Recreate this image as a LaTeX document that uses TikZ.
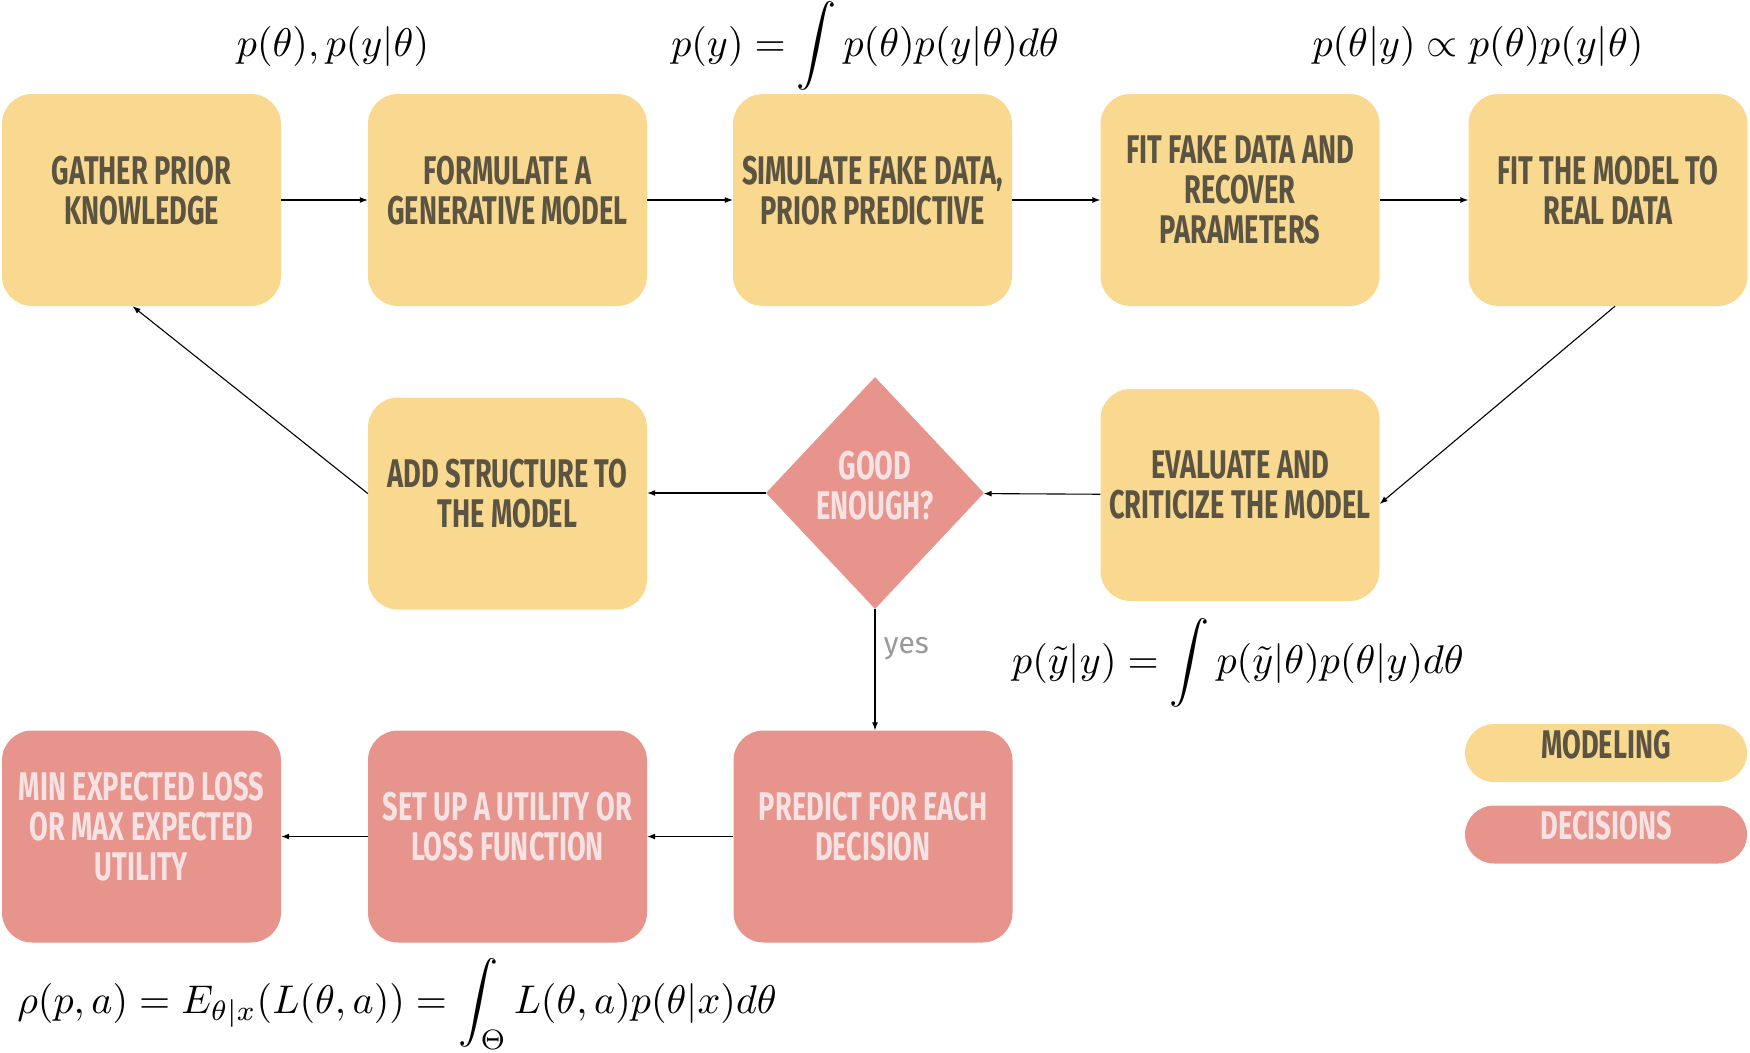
\documentclass[tikz,border=0pt]{standalone}
\usepackage{fontspec}
\newfontfamily\dinfont{Fira Sans}[FakeStretch=0.68]
\newfontfamily\yesfont{Fira Sans}
\usetikzlibrary{shapes.geometric,arrows.meta,calc}
\definecolor{modelfill}{HTML}{F8D98F}
\definecolor{decfill}{HTML}{E6948C}
\definecolor{modeltext}{HTML}{5B5443}
\definecolor{dectext}{HTML}{F6E2E3}
\tikzstyle{stage}=[rectangle,rounded corners=30pt,minimum width=279pt,minimum height=212pt,inner sep=0pt,align=center,font=\dinfont\bfseries\fontsize{40}{40}\selectfont,text depth=20pt]
\tikzstyle{model}=[stage,fill=modelfill,text=modeltext]
\tikzstyle{decide}=[stage,fill=decfill,text=dectext]
\tikzstyle{pill}=[stage,rounded corners=29pt,minimum width=282pt,minimum height=58pt,text depth=18pt]
\tikzstyle{formula}=[anchor=base,inner sep=0pt,scale=4]
\tikzstyle{flow}=[-{Latex[length=8pt,width=6pt]},line width=1.1pt]
\newcommand{\drawflow}[2][]{
	\foreach \a/\b in {#2}{
		\draw[flow,#1] (\a) edge (\b);
	}
}

\begin{document}
\begin{tikzpicture}[x=1pt,y=-1pt]
\useasboundingbox (0,0) rectangle (1750,1052);
% modeling loop, top row
\node[model] (gather) at (141.5,200) {GATHER PRIOR\\KNOWLEDGE};
\node[model] (formulate) at (507.5,200) {FORMULATE A\\GENERATIVE MODEL};
\node[model] (simulate) at (872.5,200) {SIMULATE FAKE DATA,\\PRIOR PREDICTIVE};
\node[model] (fitfake) at (1240,200) {FIT FAKE DATA AND\\RECOVER\\PARAMETERS};
\node[model] (fitreal) at (1608,200) {FIT THE MODEL TO\\REAL DATA};

% middle row
\node[model] (addstruct) at (507.5,503.5) {ADD STRUCTURE TO\\THE MODEL};
\node[diamond,aspect=0.94,minimum width=218pt,minimum height=232pt,inner sep=0pt,align=center,fill=decfill,text=dectext,font=\dinfont\bfseries\fontsize{40}{40}\selectfont,text depth=16pt] (good) at (875,493) {GOOD\\ENOUGH?};
\node[model] (evaluate) at (1240,495) {EVALUATE AND\\CRITICIZE THE MODEL};

% decision row
\node[decide] (predict) at (873,836.5) {PREDICT FOR EACH\\DECISION};
\node[decide] (setup) at (507.5,836.5) {SET UP A UTILITY OR\\LOSS FUNCTION};
\node[decide] (minloss) at (141.5,836.5) {MIN EXPECTED LOSS\\OR MAX EXPECTED\\UTILITY};

% legend
\node[pill,fill=modelfill,text=modeltext] (legmodel) at (1606,753) {MODELING};
\node[pill,fill=decfill,text=dectext] (legdecide) at (1606,834.5) {DECISIONS};

% formulas
\node[formula] (fprior) at (333,56) {$p(\theta), p(y|\theta)$};
\node[formula] (fmarg) at (865,56) {$\displaystyle p(y) = \int p(\theta)p(y|\theta)d\theta$};
\node[formula] (fpost) at (1478,56) {$p(\theta|y) \propto p(\theta)p(y|\theta)$};
\node[formula] (fpred) at (1238,673) {$\displaystyle p(\tilde{y}|y) = \int p(\tilde{y}|\theta)p(\theta|y)d\theta$};
\node[formula] (frisk) at (397,1013) {$\displaystyle \rho(p,a) = E_{\theta|x}(L(\theta,a)) = \int_\Theta L(\theta,a)p(\theta|x)d\theta$};

\drawflow{gather/formulate,formulate/simulate,simulate/fitfake,fitfake/fitreal,evaluate/good,predict/setup,setup/minloss}
\draw[flow] ([xshift=7]fitreal.south) -- ([yshift=-9]evaluate.east);
\draw[flow] (good.west) -- (good.west -| addstruct.east);
\draw[flow] ([yshift=10]addstruct.west) -- ([xshift=-9]gather.south);
\draw[flow] (good.south) -- (good.south |- predict.north)
	node[pos=0.3,right=5pt,yshift=-3pt,text=black!40,font=\yesfont\fontsize{30}{32}\selectfont] (yes) {yes};
\end{tikzpicture}
\end{document}
